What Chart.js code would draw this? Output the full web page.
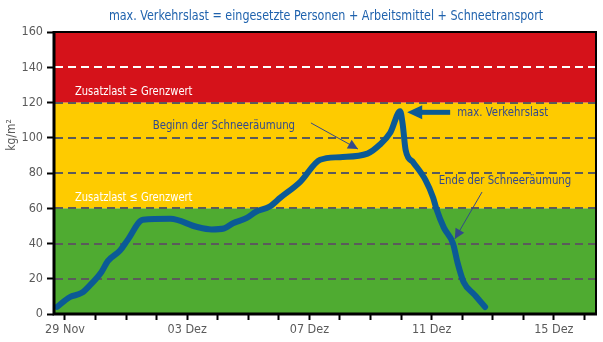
<!DOCTYPE html>
<html>
<head>
<meta charset="utf-8">
<script src="https://cdn.jsdelivr.net/npm/chart.js@4/dist/chart.umd.min.js"></script>
<style>
  html, body { margin: 0; padding: 0; background: #fff; }
  #wrap { width: 603px; height: 342px; }
</style>
</head>
<body>
<div id="wrap"><canvas id="load"></canvas></div>
<script>
// days counted from 29 Nov, load in kg/m2
const days = [-0.26, 0.15, 0.55, 0.8, 1.2, 1.4, 1.8, 2.05, 2.55, 3.45, 4.3, 4.8, 5.2, 5.5, 5.95, 6.25, 6.7, 7.05, 7.7,
  8.35, 9.0, 9.9, 10.3, 10.65, 10.97, 11.05, 11.15, 11.4, 11.8, 12.05, 12.15, 12.4, 12.7, 12.85, 13.05, 13.4, 13.75];
const loads = [4, 9.5, 12, 16, 24, 30, 36, 42, 53.5, 54, 49.5, 48, 48.5, 51.5, 54.5, 58, 61, 66, 75,
  87.5, 89, 91, 96, 103, 115, 108, 93, 86, 76, 66, 60, 49, 40, 29, 18, 11, 4];

const tickDays = [0, 4, 8, 12, 16];
const tickLabels = ['29 Nov', '03 Dez', '07 Dez', '11 Dez', '15 Dez'];

const bandLimits = [0, 60, 120, 160];
const bandColours = ['#4fab31', '#fecb00', '#d5121a'];

const FONT = '"Liberation Sans Narrow", "DejaVu Sans Condensed", "Liberation Sans", sans-serif';
const NOTE = '#33498c';
const LINE = '#0b5a96';

function arrowHead(ctx, x0, y0, x1, y1, len, half) {
  const a = Math.atan2(y1 - y0, x1 - x0);
  ctx.beginPath();
  ctx.moveTo(x1, y1);
  ctx.lineTo(x1 - len * Math.cos(a) + half * Math.sin(a), y1 - len * Math.sin(a) - half * Math.cos(a));
  ctx.lineTo(x1 - len * Math.cos(a) - half * Math.sin(a), y1 - len * Math.sin(a) + half * Math.cos(a));
  ctx.closePath();
  ctx.fill();
}

// condensed text: draw a larger font squeezed horizontally
function narrowText(ctx, text, x, y, size, squeeze, align) {
  ctx.save();
  ctx.font = size + 'px ' + FONT;
  ctx.textAlign = align;
  ctx.textBaseline = 'middle';
  ctx.translate(x, y);
  ctx.scale(squeeze, 1);
  ctx.fillText(text, 0, 0);
  ctx.restore();
}

const backdrop = {
  id: 'backdrop',
  beforeDraw(chart) {
    const { ctx, chartArea: a, scales: { y } } = chart;
    ctx.save();
    for (let i = 0; i < bandColours.length; i++) {
      const top = y.getPixelForValue(bandLimits[i + 1]);
      const bottom = y.getPixelForValue(bandLimits[i]);
      ctx.fillStyle = bandColours[i];
      ctx.fillRect(a.left, top, a.right - a.left, bottom - top);
    }
    ctx.lineWidth = 2;
    ctx.setLineDash([8, 5]);
    y.ticks.forEach(t => {
      if (t.value <= 0 || t.value >= 160) return;
      const py = Math.round(y.getPixelForValue(t.value));
      ctx.strokeStyle = t.value > 120 ? '#ffffff' : '#5b5b5b';
      ctx.beginPath();
      ctx.moveTo(a.left + 1, py);
      ctx.lineTo(a.right, py);
      ctx.stroke();
    });
    ctx.setLineDash([]);

    ctx.fillStyle = '#ffffff';
    narrowText(ctx, 'Zusatzlast \u2265 Grenzwert', a.left + 21, y.getPixelForValue(126), 13, 0.85, 'left');
    narrowText(ctx, 'Zusatzlast \u2264 Grenzwert', a.left + 21, y.getPixelForValue(66), 13, 0.85, 'left');
    ctx.restore();
  },
  afterDatasetsDraw(chart) {
    const { ctx, chartArea: a, scales: { x, y } } = chart;
    ctx.save();

    // frame
    ctx.strokeStyle = '#000';
    ctx.lineWidth = 2;
    ctx.strokeRect(a.left, a.top, a.right - a.left, a.bottom - a.top);
    ctx.lineWidth = 3;
    ctx.beginPath();
    ctx.moveTo(a.left, a.top - 1);
    ctx.lineTo(a.left, a.bottom);
    ctx.lineTo(a.right + 1, a.bottom);
    ctx.stroke();

    ctx.fillStyle = NOTE;
    ctx.strokeStyle = NOTE;

    // start of clearing
    narrowText(ctx, 'Beginn der Schneer\u00e4umung', x.getPixelForValue(5.2), y.getPixelForValue(106.7), 13, 0.87, 'center');
    let x0 = x.getPixelForValue(8.05), y0 = y.getPixelForValue(108.4);
    let x1 = x.getPixelForValue(9.59), y1 = y.getPixelForValue(93.6);
    ctx.lineWidth = 1;
    ctx.beginPath();
    ctx.moveTo(x0, y0);
    ctx.lineTo(x1, y1);
    ctx.stroke();
    arrowHead(ctx, x0, y0, x1, y1, 10, 5);

    // end of clearing
    narrowText(ctx, 'Ende der Schneer\u00e4umung', x.getPixelForValue(14.4), y.getPixelForValue(75.5), 13, 0.87, 'center');
    x0 = x.getPixelForValue(13.65); y0 = y.getPixelForValue(69.2);
    x1 = x.getPixelForValue(12.76); y1 = y.getPixelForValue(42.6);
    ctx.beginPath();
    ctx.moveTo(x0, y0);
    ctx.lineTo(x1, y1);
    ctx.stroke();
    arrowHead(ctx, x0, y0, x1, y1, 10, 5);

    // peak
    const iMax = loads.indexOf(Math.max(...loads));
    const px = x.getPixelForValue(days[iMax]) + 7;
    const py = y.getPixelForValue(loads[iMax]) + 1;
    narrowText(ctx, 'max. Verkehrslast', px + 50, py, 13, 0.87, 'left');
    ctx.strokeStyle = LINE;
    ctx.fillStyle = LINE;
    ctx.lineWidth = 5;
    ctx.beginPath();
    ctx.moveTo(px + 43, py);
    ctx.lineTo(px + 12, py);
    ctx.stroke();
    arrowHead(ctx, px + 20, py, px, py, 15, 7);
    ctx.restore();
  },
  afterDraw(chart) {
    const { ctx, chartArea: a } = chart;
    ctx.save();
    ctx.fillStyle = '#1f62ad';
    narrowText(ctx, 'max. Verkehrslast = eingesetzte Personen + Arbeitsmittel + Schneetransport', 326, 16, 14, 0.886, 'center');

    ctx.fillStyle = '#5a5a5a';
    ctx.font = '12px ' + FONT;
    ctx.textAlign = 'center';
    ctx.textBaseline = 'middle';
    ctx.translate(12, (a.top + a.bottom) / 2 - 38);
    ctx.rotate(-Math.PI / 2);
    ctx.fillText('kg/m\u00b2', 0, 0);
    ctx.restore();
  }
};

new Chart(document.getElementById('load'), {
  type: 'line',
  data: {
    datasets: [{
      data: days.map((d, i) => ({ x: d, y: loads[i] })),
      borderColor: LINE,
      borderWidth: 6,
      borderCapStyle: 'round',
      borderJoinStyle: 'round',
      pointRadius: 0,
      cubicInterpolationMode: 'monotone',
      fill: false
    }]
  },
  options: {
    responsive: true,
    maintainAspectRatio: false,
    animation: false,
    devicePixelRatio: 1,
    layout: { padding: { top: 32, right: 7, left: 0, bottom: 0 } },
    plugins: {
      legend: { display: false },
      tooltip: { enabled: false }
    },
    scales: {
      x: {
        type: 'linear',
        min: -0.36,
        max: 17.38,
        afterFit: s => { s.height = 28; },
        afterBuildTicks: s => {
          s.ticks = Array.from({ length: 18 }, (_, i) => ({ value: i }));
        },
        border: { display: false },
        grid: { drawOnChartArea: false, drawTicks: true, tickLength: 6, tickColor: '#000', tickWidth: 2 },
        ticks: {
          autoSkip: false,
          maxRotation: 0,
          padding: 2,
          color: '#5a5a5a',
          font: { family: FONT, size: 12.5 },
          callback: v => {
            const k = tickDays.indexOf(v);
            return k >= 0 ? tickLabels[k] : '';
          }
        }
      },
      y: {
        min: 0,
        max: 160,
        afterFit: s => { s.width = 54; },
        border: { display: false },
        grid: { drawOnChartArea: false, drawTicks: true, tickLength: 7, tickColor: '#000', tickWidth: 2 },
        ticks: {
          stepSize: 20,
          padding: 4,
          color: '#5a5a5a',
          font: { family: FONT, size: 12.5 }
        }
      }
    }
  },
  plugins: [backdrop]
});
</script>
</body>
</html>
